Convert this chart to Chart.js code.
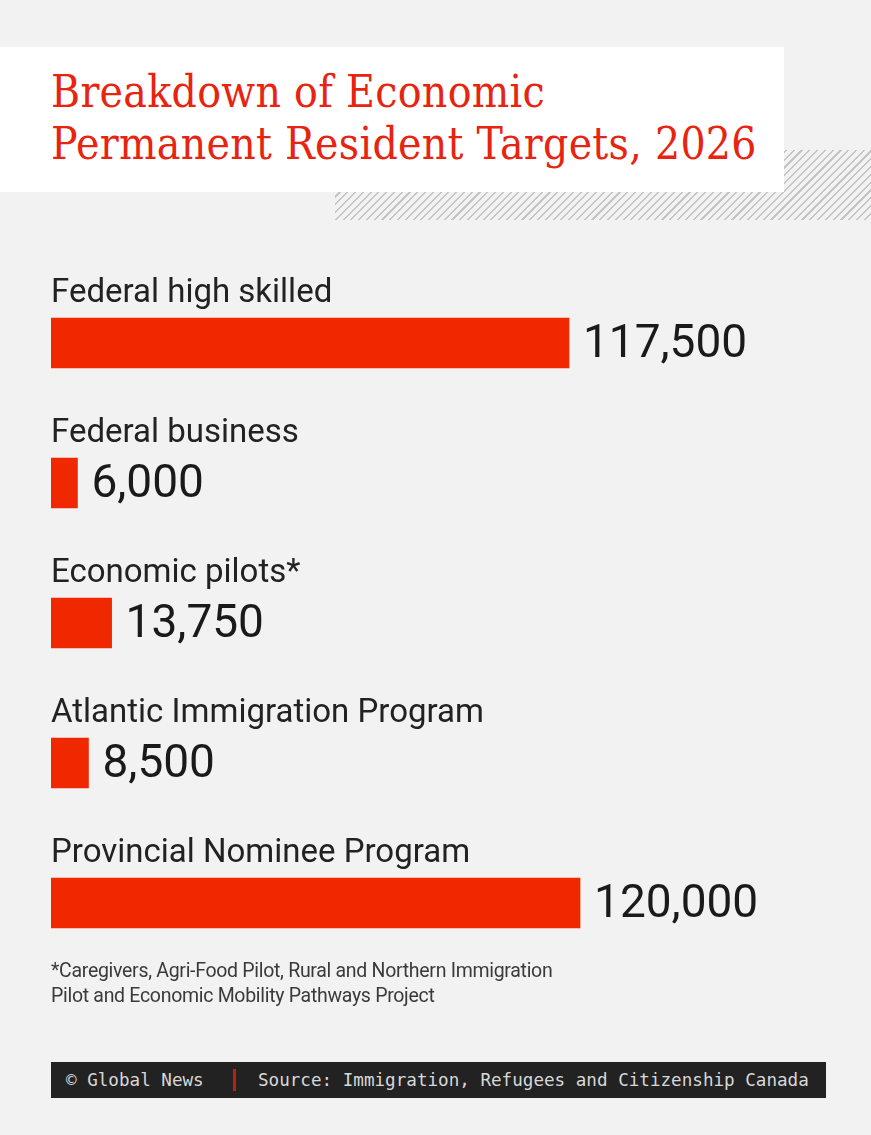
<!DOCTYPE html>
<html>
<head>
<meta charset="utf-8">
<script src="https://cdn.jsdelivr.net/npm/chart.js@4"></script>
<style>
  html, body { margin: 0; padding: 0; }
  body { width: 871px; height: 1135px; background: #f2f2f2; position: relative; overflow: hidden; font-family: Roboto, sans-serif; }
  #hatch { position: absolute; left: 335px; top: 150px; width: 536px; height: 70px;
    background: repeating-linear-gradient(-45deg, #f2f2f2 0px, #f2f2f2 4px, #c4c4c4 4px, #c4c4c4 5.5px); }
  #titlebox { position: absolute; left: 0; top: 47px; width: 784px; height: 145px; background: #fff; }
  #title { position: absolute; left: 51px; top: 66px; margin: 0; font-family: "DejaVu Serif", serif; font-stretch: condensed; font-weight: normal;
    font-size: 44px; line-height: 52px; color: #e8230f; letter-spacing: 0.3px; white-space: nowrap; }
  #chartWrap { position: absolute; left: 51px; top: 273px; width: 820px; height: 700px; }
  #note { position: absolute; left: 51px; top: 958px; font-size: 19.5px; line-height: 25px; color: #3a3a3a; letter-spacing: -0.3px; }
  #footer { position: absolute; left: 51px; top: 1062px; width: 775px; height: 36px; background: #222;
    font-family: "DejaVu Sans Mono", monospace; font-size: 17.6px; color: #d8d8d8; line-height: 36px; }
  #footer .a { position: absolute; left: 15px; }
  #footer .bar { position: absolute; left: 182px; top: 7px; width: 3px; height: 22px; background: #b8220f; }
  #footer .b { position: absolute; left: 207px; }
</style>
</head>
<body>
<div id="hatch"></div>
<div id="titlebox"></div>
<h1 id="title">Breakdown of Economic<br>Permanent Resident Targets, 2026</h1>
<div id="chartWrap"><canvas id="c"></canvas></div>
<div id="note">*Caregivers, Agri-Food Pilot, Rural and Northern Immigration<br>Pilot and Economic Mobility Pathways Project</div>
<div id="footer"><span class="a">© Global News</span><span class="bar"></span><span class="b">Source: Immigration, Refugees and Citizenship Canada</span></div>
<script>
const categories = ['Federal high skilled', 'Federal business', 'Economic pilots*', 'Atlantic Immigration Program', 'Provincial Nominee Program'];
const targets = [117500, 6000, 13750, 8500, 120000];

// draws the category name above each bar and the value to its right
const barLabels = {
    id: 'barLabels',
    afterDatasetsDraw(chart) {
        const ctx = chart.ctx;
        const meta = chart.getDatasetMeta(0);
        ctx.save();
        meta.data.forEach((bar, i) => {
            const top = bar.y - bar.height / 2;
            ctx.fillStyle = '#222';
            ctx.textBaseline = 'alphabetic';
            ctx.font = '33px Roboto';
            ctx.fillText(categories[i], chart.chartArea.left, top - 16);
            ctx.fillStyle = '#1a1a1a';
            ctx.font = '46px Roboto';
            ctx.textBaseline = 'middle';
            ctx.fillText(targets[i].toLocaleString('en-US'), bar.x + 14, bar.y + 2);
        });
        ctx.restore();
    }
};

chart = new Chart(document.getElementById('c'), {
    type: 'bar',
    data: {
        labels: categories,
        datasets: [{
            data: targets,
            backgroundColor: '#f02800',
            barThickness: 50,
            borderWidth: 0
        }]
    },
    options: {
        indexAxis: 'y',
        responsive: true,
        maintainAspectRatio: false,
        animation: false,
        layout: { padding: 0 },
        plugins: { legend: { display: false }, tooltip: { enabled: false } },
        scales: {
            x: { display: false, min: 0, max: 186000 },
            y: { display: false, offset: true }
        }
    },
    plugins: [barLabels]
});
</script>
</body>
</html>
